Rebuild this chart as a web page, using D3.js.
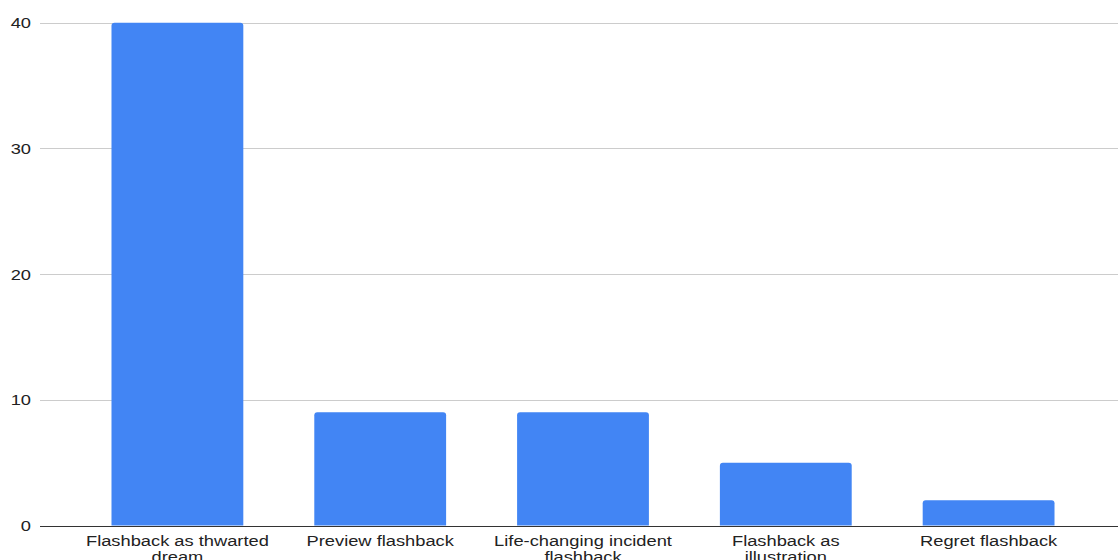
<!DOCTYPE html>
<html>
<head>
<meta charset="utf-8">
<script src="https://cdn.jsdelivr.net/npm/d3@7"></script>
<style>
  html, body { margin: 0; padding: 0; background: #fff; }
  svg { display: block; }
  text { font-family: "Liberation Sans", Arial, sans-serif; fill: #222; }
</style>
</head>
<body>
<svg id="chart" width="1118" height="560"></svg>
<script>
// Flashback types and how often each occurs
const categories = [
  "Flashback as thwarted dream",
  "Preview flashback",
  "Life-changing incident flashback",
  "Flashback as illustration",
  "Regret flashback"
];
const counts = [40, 9, 9, 5, 2];
const yTicks = [0, 10, 20, 30, 40];

const W = 1118, H = 560;
const fontSize = 15.5;
const stretch = 1.18;      // wide text face
const maxLabelWidth = 190; // wrap width for category labels

const svg = d3.select("#chart");

const x = d3.scaleBand()
  .domain(categories)
  .range([76, 1090])
  .paddingInner(0.35)
  .paddingOuter(0.175);

const y = d3.scaleLinear()
  .domain([0, 40])
  .range([525.5, 22.7]);

// horizontal gridlines
svg.append("g")
  .selectAll("line")
  .data(yTicks.filter(d => d !== 0))
  .join("line")
  .attr("x1", 40).attr("x2", W)
  .attr("y1", d => Math.round(y(d)) + 0.5)
  .attr("y2", d => Math.round(y(d)) + 0.5)
  .attr("stroke", "#cccccc")
  .attr("stroke-width", 1);

// y tick labels
svg.append("g")
  .selectAll("text")
  .data(yTicks)
  .join("text")
  .attr("transform", d => `translate(31,${y(d)}) scale(${stretch},1)`)
  .attr("dy", "0.35em")
  .attr("text-anchor", "end")
  .style("font-size", fontSize + "px")
  .text(d => d);

// bars with softly rounded tops
function barPath(x0, w, yTop, yBase, r) {
  r = Math.min(r, w / 2, (yBase - yTop) / 2);
  return `M${x0},${yBase}V${yTop + r}Q${x0},${yTop} ${x0 + r},${yTop}` +
         `H${x0 + w - r}Q${x0 + w},${yTop} ${x0 + w},${yTop + r}V${yBase}Z`;
}

svg.append("g")
  .selectAll("path")
  .data(categories.map((c, i) => ({ c, v: counts[i] })))
  .join("path")
  .attr("d", d => barPath(x(d.c), x.bandwidth(), y(d.v), y(0), 3))
  .attr("fill", "#4285f4");

// baseline
svg.append("line")
  .attr("x1", 40).attr("x2", W)
  .attr("y1", Math.round(y(0)) + 0.5)
  .attr("y2", Math.round(y(0)) + 0.5)
  .attr("stroke", "#333333")
  .attr("stroke-width", 1);

// category labels, wrapped to fit
const labels = svg.append("g")
  .selectAll("text")
  .data(categories)
  .join("text")
  .attr("transform", d => `translate(${x(d) + x.bandwidth() / 2},545.5) scale(${stretch},1)`)
  .attr("text-anchor", "middle")
  .style("font-size", fontSize + "px");

labels.each(function(label) {
  const t = d3.select(this);
  const words = label.split(" ");
  const lines = [];
  let current = [];
  const probe = t.append("tspan");
  words.forEach(w => {
    const attempt = current.concat(w).join(" ");
    probe.text(attempt);
    if (current.length && probe.node().getComputedTextLength() * stretch > maxLabelWidth) {
      lines.push(current.join(" "));
      current = [w];
    } else {
      current.push(w);
    }
  });
  lines.push(current.join(" "));
  probe.remove();
  lines.forEach((ln, i) => {
    t.append("tspan")
      .attr("x", 0)
      .attr("dy", i === 0 ? 0 : 16.7)
      .text(ln);
  });
});
</script>
</body>
</html>
